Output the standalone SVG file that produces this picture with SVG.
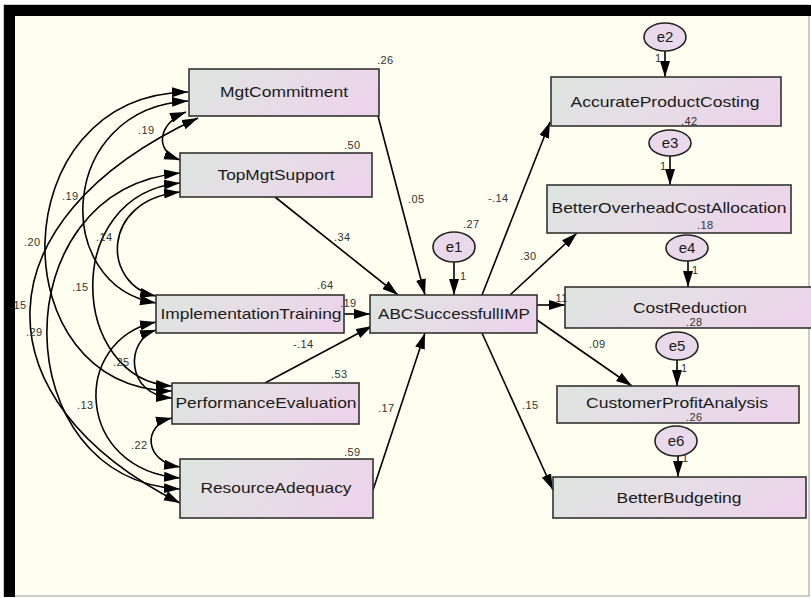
<svg xmlns="http://www.w3.org/2000/svg" width="811" height="598" viewBox="0 0 811 598">
<defs>
<linearGradient id="g" x1="0" y1="0" x2="1" y2="0.25">
<stop offset="0" stop-color="#dde5df"/>
<stop offset="0.55" stop-color="#e6dde6"/>
<stop offset="1" stop-color="#ecd5ea"/>
</linearGradient>
<marker id="ah" markerUnits="userSpaceOnUse" markerWidth="18" markerHeight="12" refX="16" refY="5.5" orient="auto-start-reverse">
<path d="M0,0.5 L16,5.5 L0,10.5 z" fill="#000"/>
</marker>
</defs>
<style>
.box{fill:url(#g);stroke:#333;stroke-width:1.6}
.ell{fill:#e9d9ea;stroke:#222;stroke-width:1.6}
.n{font-family:"Liberation Sans",Arial,sans-serif;font-size:15px;fill:#1a1a1a;text-anchor:middle}
.s{font-family:"Liberation Sans",Arial,sans-serif;font-size:11px;fill:#333;letter-spacing:0.4px}
.c path,.c line{fill:none;stroke:#000;stroke-width:1.6;marker-end:url(#ah)}
.c .cov{marker-start:url(#ah)}
</style>
<rect x="0" y="0" width="811" height="598" fill="#ffffff"/>
<rect x="4" y="5" width="805" height="591" fill="#fefff0" stroke="#999" stroke-width="1"/>
<rect x="4" y="5" width="807" height="11" fill="#000"/>
<rect x="4" y="5" width="11" height="592" fill="#000"/>

<g id="connectors" class="c">
<path class="cov" d="M186,112 C160,122 152,150 180,160"/>
<path class="cov" d="M188,101 C58,108 50,285 156,303"/>
<path class="cov" d="M188,92 C0,95 0,390 172,391"/>
<path class="cov" d="M198,118 C-22,220 -24,400 180,503"/>
<path class="cov" d="M180,192 C100,200 102,285 156,296"/>
<path class="cov" d="M180,183 C60,195 70,380 172,386"/>
<path class="cov" d="M180,173 C0,190 5,480 180,489"/>
<path class="cov" d="M156,330 C125,340 125,395 172,398"/>
<path class="cov" d="M156,322 C70,340 75,470 180,478"/>
<path class="cov" d="M172,418 C142,425 144,462 180,467"/>

<line x1="378" y1="116" x2="425" y2="295"/>
<line x1="275" y1="197" x2="398" y2="295"/>
<line x1="344" y1="314" x2="370" y2="314"/>
<line x1="265" y1="383" x2="372" y2="326"/>
<line x1="373" y1="490" x2="425" y2="333"/>
<line x1="454" y1="262" x2="454" y2="295"/>
<line x1="482" y1="295" x2="550" y2="122"/>
<line x1="510" y1="295" x2="577" y2="233"/>
<line x1="537" y1="305" x2="565" y2="305"/>
<line x1="537" y1="320" x2="632" y2="386"/>
<line x1="482" y1="333" x2="553" y2="490"/>
<line x1="665" y1="51" x2="665" y2="77"/>
<line x1="670" y1="156" x2="670" y2="185"/>
<line x1="688" y1="261" x2="688" y2="287"/>
<line x1="677" y1="360" x2="677" y2="386"/>
<line x1="678" y1="456" x2="678" y2="477"/>
</g>

<g id="MgtCommitment"><rect class="box" x="189" y="69" width="190" height="47"/><text class="n" x="284" y="97" textLength="128" lengthAdjust="spacingAndGlyphs">MgtCommitment</text></g>
<g id="TopMgtSupport"><rect class="box" x="180" y="153" width="192" height="44"/><text class="n" x="276" y="180" textLength="117" lengthAdjust="spacingAndGlyphs">TopMgtSupport</text></g>
<g id="ImplementationTraining"><rect class="box" x="156" y="295" width="188" height="38"/><text class="n" x="251" y="319" textLength="181" lengthAdjust="spacingAndGlyphs">ImplementationTraining</text></g>
<g id="PerformanceEvaluation"><rect class="box" x="172" y="383" width="187" height="41"/><text class="n" x="266" y="408" textLength="181" lengthAdjust="spacingAndGlyphs">PerformanceEvaluation</text></g>
<g id="ResourceAdequacy"><rect class="box" x="180" y="459" width="193" height="59"/><text class="n" x="276" y="493" textLength="151" lengthAdjust="spacingAndGlyphs">ResourceAdequacy</text></g>
<g id="ABCSuccessfullIMP"><rect class="box" x="370" y="295" width="167" height="38"/><text class="n" x="454" y="319" textLength="152" lengthAdjust="spacingAndGlyphs">ABCSuccessfullIMP</text></g>
<g id="AccurateProductCosting"><rect class="box" x="551" y="77" width="230" height="49"/><text class="n" x="665" y="107" textLength="189" lengthAdjust="spacingAndGlyphs">AccurateProductCosting</text></g>
<g id="BetterOverheadCostAllocation"><rect class="box" x="547" y="185" width="244" height="48"/><text class="n" x="669" y="213" textLength="235" lengthAdjust="spacingAndGlyphs">BetterOverheadCostAllocation</text></g>
<g id="CostReduction"><rect class="box" x="565" y="287" width="250" height="41"/><text class="n" x="690" y="313" textLength="114" lengthAdjust="spacingAndGlyphs">CostReduction</text></g>
<g id="CustomerProfitAnalysis"><rect class="box" x="557" y="386" width="242" height="37"/><text class="n" x="677" y="408" textLength="182" lengthAdjust="spacingAndGlyphs">CustomerProfitAnalysis</text></g>
<g id="BetterBudgeting"><rect class="box" x="553" y="477" width="253" height="41"/><text class="n" x="679" y="503" textLength="125" lengthAdjust="spacingAndGlyphs">BetterBudgeting</text></g>

<g id="e1"><ellipse class="ell" cx="454" cy="247" rx="21" ry="15"/><text class="n" x="454" y="252">e1</text></g>
<g id="e2"><ellipse class="ell" cx="665" cy="37" rx="21" ry="14"/><text class="n" x="665" y="42">e2</text></g>
<g id="e3"><ellipse class="ell" cx="670" cy="143" rx="21" ry="13"/><text class="n" x="670" y="148">e3</text></g>
<g id="e4"><ellipse class="ell" cx="687" cy="248" rx="21" ry="13"/><text class="n" x="687" y="253">e4</text></g>
<g id="e5"><ellipse class="ell" cx="677" cy="346" rx="21" ry="14"/><text class="n" x="677" y="351">e5</text></g>
<g id="e6"><ellipse class="ell" cx="676" cy="441" rx="21" ry="15"/><text class="n" x="676" y="446">e6</text></g>

<g id="labels">
<text class="s" x="377" y="64">.26</text>
<text class="s" x="344" y="149">.50</text>
<text class="s" x="317" y="289">.64</text>
<text class="s" x="331" y="378">.53</text>
<text class="s" x="344" y="456">.59</text>
<text class="s" x="463" y="228">.27</text>
<text class="s" x="681" y="125">.42</text>
<text class="s" x="697" y="229">.18</text>
<text class="s" x="686" y="326">.28</text>
<text class="s" x="686" y="421" font-size="10">.26</text>
<text class="s" x="408" y="203">.05</text>
<text class="s" x="334" y="241">.34</text>
<text class="s" x="340" y="307">.19</text>
<text class="s" x="293" y="348">-.14</text>
<text class="s" x="378" y="412">.17</text>
<text class="s" x="488" y="202">-.14</text>
<text class="s" x="520" y="260">.30</text>
<text class="s" x="552" y="302">.11</text>
<text class="s" x="589" y="348">.09</text>
<text class="s" x="522" y="409">.15</text>
<text class="s" x="460" y="280">1</text>
<text class="s" x="655" y="62">1</text>
<text class="s" x="660" y="170">1</text>
<text class="s" x="692" y="274">1</text>
<text class="s" x="681" y="372">1</text>
<text class="s" x="682" y="462">1</text>
<text class="s" x="138" y="134">.19</text>
<text class="s" x="62" y="200">.19</text>
<text class="s" x="24" y="246">.20</text>
<text class="s" x="96" y="241">.14</text>
<text class="s" x="72" y="291">.15</text>
<text class="s" x="10" y="309">.15</text>
<text class="s" x="26" y="336">.29</text>
<text class="s" x="113" y="366">.25</text>
<text class="s" x="77" y="409">.13</text>
<text class="s" x="131" y="449">.22</text>
</g>
</svg>
